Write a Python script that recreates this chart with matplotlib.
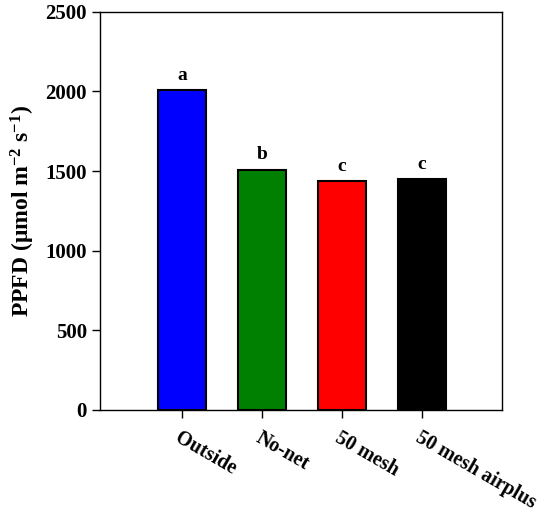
import matplotlib
matplotlib.use("Agg")
import matplotlib.pyplot as plt

treatments = ["Outside", "No-net", "50 mesh", "50 mesh airplus"]
ppfd = [2010, 1508, 1438, 1451]
letters = ["a", "b", "c", "c"]
colors = ["#0000ff", "#008000", "#ff0000", "#000000"]

plt.rcParams['font.family'] = ['Liberation Serif', 'DejaVu Serif']
plt.rcParams['font.weight'] = 'bold'
plt.rcParams['mathtext.fontset'] = 'custom'
plt.rcParams['mathtext.rm'] = 'Liberation Serif:bold'
plt.rcParams['mathtext.it'] = 'Liberation Serif:bold'
plt.rcParams['mathtext.bf'] = 'Liberation Serif:bold'

fig = plt.figure(figsize=(5.5, 5.15), dpi=100)
ax = fig.add_axes([0.182, 0.204, 0.731, 0.773])

x = list(range(1, len(treatments) + 1))
ax.bar(x, ppfd, width=0.6, color=colors, edgecolor='black', linewidth=1.5)
for xi, v, l in zip(x, ppfd, letters):
    ax.text(xi, v + 40, l, ha='center', va='bottom', fontsize=14, fontweight='bold')

ax.set_xlim(-0.02, 5)
ax.set_ylim(0, 2500)
ax.set_yticks([0, 500, 1000, 1500, 2000, 2500])
ax.set_xticks(x)
ax.set_xticklabels(treatments, rotation=-30, ha='left', rotation_mode='anchor', fontsize=14.5, fontweight='bold')
ax.tick_params(axis='y', labelsize=15, direction='out', length=6, width=1)
ax.tick_params(axis='x', direction='out', length=6, width=1, pad=7)
for lab in ax.get_yticklabels():
    lab.set_fontweight('bold')
for sp in ax.spines.values():
    sp.set_linewidth(1)
ax.set_ylabel(r'PPFD ($\mathregular{\mu}$mol m$^{\mathregular{-2}}$ s$^{\mathregular{-1}}$)', fontsize=17, fontweight='bold', labelpad=6)

fig.savefig("out.png", dpi=100)
